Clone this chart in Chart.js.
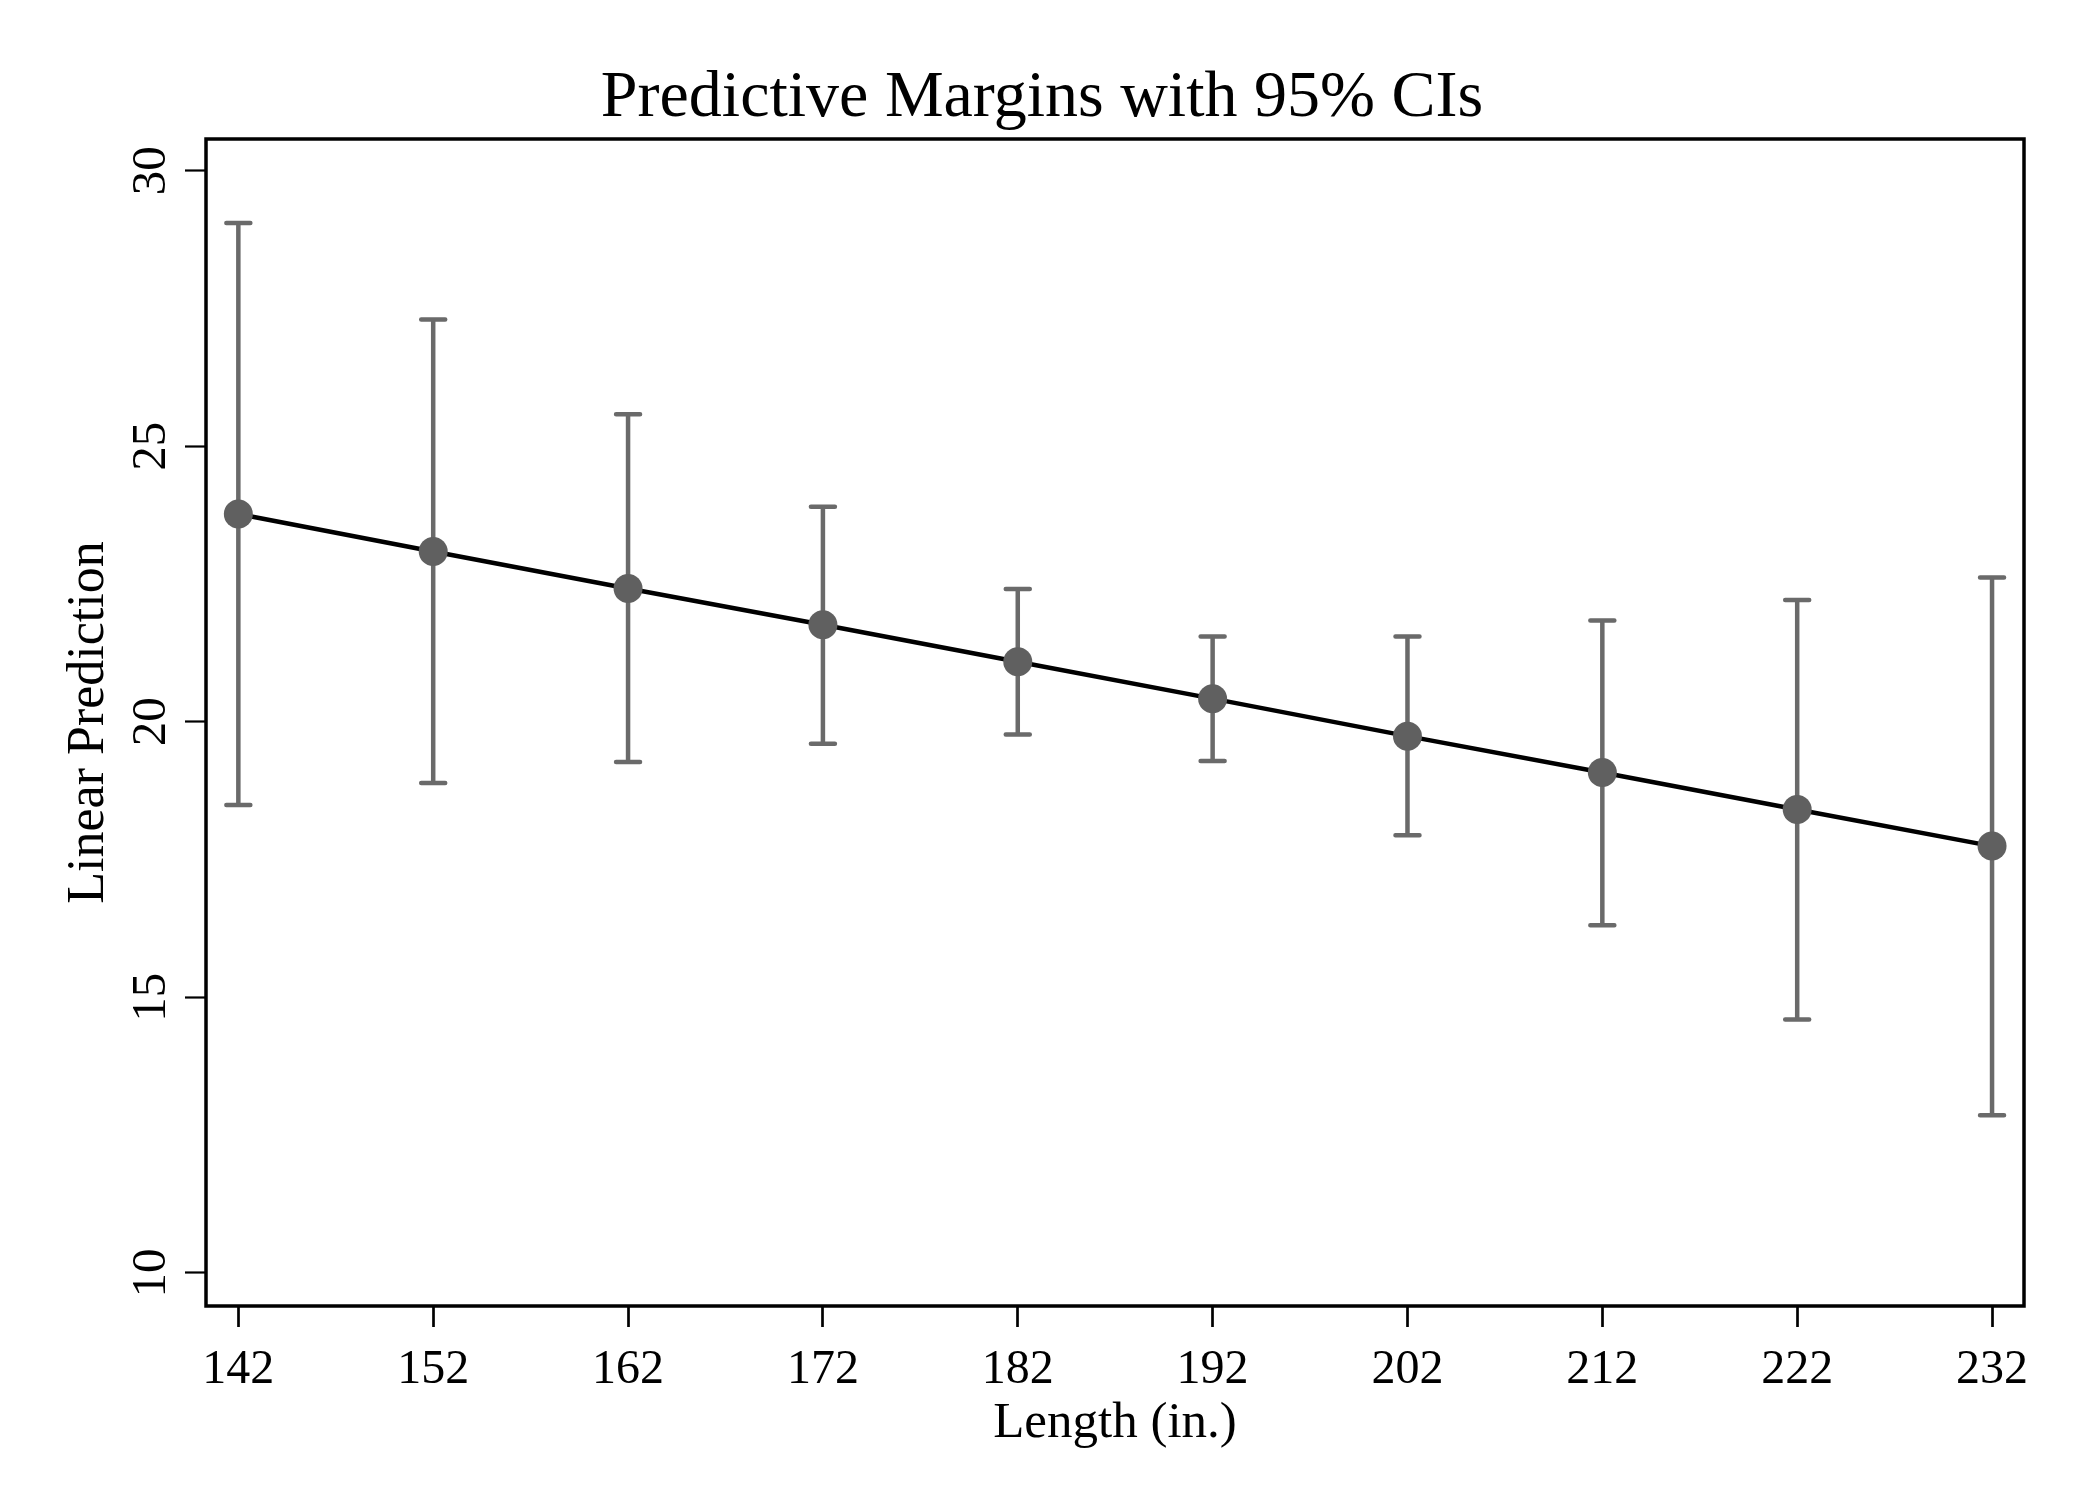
<!DOCTYPE html>
<html>
<head>
<meta charset="utf-8">
<title>Predictive Margins with 95% CIs</title>
<script src="https://cdn.jsdelivr.net/npm/chart.js@4.4.1/dist/chart.umd.min.js"></script>
<style>
  html, body { margin: 0; padding: 0; background: #fff; overflow: hidden; }
  #wrap { width: 2079px; height: 1512px; position: relative; }
</style>
</head>
<body>
<div id="wrap"><canvas id="chart"></canvas></div>
<script>
// values
const lengths = [142, 152, 162, 172, 182, 192, 202, 212, 222, 232];
const margins = [23.77, 23.09, 22.42, 21.76, 21.09, 20.42, 19.74, 19.08, 18.41, 17.745];
const lowerCI = [18.49, 18.89, 19.27, 19.60, 19.77, 19.29, 17.94, 16.31, 14.60, 12.86];
const upperCI = [29.05, 27.30, 25.58, 23.90, 22.41, 21.55, 21.55, 21.84, 22.21, 22.62];
const xTicks = [142, 152, 162, 172, 182, 192, 202, 212, 222, 232];
const yTicks = [10, 15, 20, 25, 30];
const chartTitle = "Predictive Margins with 95% CIs";

const serif = "'Liberation Serif', 'Times New Roman', serif";

// rcap style confidence intervals, drawn under the line
const ciPlugin = {
  id: "ciCaps",
  beforeDatasetsDraw(chart) {
    const { ctx, scales: { x, y } } = chart;
    ctx.save();
    ctx.strokeStyle = "#6a6a6a";
    ctx.lineWidth = 4.5;
    ctx.lineCap = "round";
    lengths.forEach((len, i) => {
      const px = x.getPixelForValue(len);
      const yLo = y.getPixelForValue(lowerCI[i]);
      const yHi = y.getPixelForValue(upperCI[i]);
      ctx.beginPath();
      ctx.moveTo(px, yLo);
      ctx.lineTo(px, yHi);
      ctx.moveTo(px - 12, yLo);
      ctx.lineTo(px + 12, yLo);
      ctx.moveTo(px - 12, yHi);
      ctx.lineTo(px + 12, yHi);
      ctx.stroke();
    });
    ctx.restore();
  },
  afterDraw(chart) {
    const { ctx, chartArea: a, scales: { y } } = chart;
    ctx.save();
    // plot frame
    ctx.strokeStyle = "#000";
    ctx.lineWidth = 3.5;
    ctx.strokeRect(a.left, a.top, a.right - a.left, a.bottom - a.top);
    ctx.fillStyle = "#000";
    // title, centred on the whole figure like Stata does
    ctx.font = "66px " + serif;
    ctx.textAlign = "center";
    ctx.textBaseline = "alphabetic";
    ctx.fillText(chartTitle, 1042, 116);
    // vertical y tick labels
    ctx.font = "49px " + serif;
    y.ticks.forEach((t) => {
      const py = y.getPixelForValue(t.value);
      ctx.save();
      ctx.translate(165, py);
      ctx.rotate(-Math.PI / 2);
      ctx.fillText(String(t.value), 0, 0);
      ctx.restore();
    });
    ctx.restore();
  },
};

const ctx = document.getElementById("chart").getContext("2d");
new Chart(ctx, {
  type: "line",
  data: {
    datasets: [
      {
        label: "Linear Prediction",
        data: lengths.map((len, i) => ({ x: len, y: margins[i] })),
        borderColor: "#000",
        borderWidth: 4.5,
        pointRadius: 14.5,
        pointHoverRadius: 14.5,
        pointBackgroundColor: "#606060",
        pointBorderWidth: 0,
        tension: 0,
        fill: false,
        clip: false,
      },
    ],
  },
  options: {
    responsive: true,
    maintainAspectRatio: false,
    devicePixelRatio: 1,
    animation: false,
    events: [],
    layout: { padding: { left: 0, right: 55, top: 139, bottom: 0 } },
    plugins: {
      legend: { display: false },
      tooltip: { enabled: false },
      title: { display: false },
    },
    scales: {
      x: {
        type: "linear",
        position: "bottom",
        min: 140.34,
        max: 233.64,
        afterBuildTicks: (scale) => {
          scale.ticks = xTicks.map((v) => ({ value: v }));
        },
        afterFit: (scale) => {
          scale.height = 206;
        },
        border: { display: false },
        grid: {
          display: true,
          drawOnChartArea: false,
          drawTicks: true,
          tickLength: 21,
          tickWidth: 2.7,
          tickColor: "#000",
        },
        ticks: {
          color: "#000",
          padding: 15,
          maxRotation: 0,
          autoSkip: false,
          font: { family: serif, size: 48, lineHeight: 1.2 },
          callback: (v) => String(v),
        },
        title: {
          display: true,
          text: "Length (in.)",
          color: "#000",
          font: { family: serif, size: 51, lineHeight: 1.2 },
          padding: { top: 0, bottom: 58 },
        },
      },
      y: {
        type: "linear",
        position: "left",
        min: 9.40,
        max: 30.575,
        afterBuildTicks: (scale) => {
          scale.ticks = yTicks.map((v) => ({ value: v }));
        },
        afterFit: (scale) => {
          scale.width = 206;
        },
        border: { display: false },
        grid: {
          display: true,
          drawOnChartArea: false,
          drawTicks: true,
          tickLength: 21,
          tickWidth: 2.2,
          tickColor: "#000",
        },
        ticks: { display: false },
        title: {
          display: true,
          text: "Linear Prediction",
          color: "#000",
          font: { family: serif, size: 52, lineHeight: 1.2 },
          padding: { top: 58, bottom: 0 },
        },
      },
    },
  },
  plugins: [ciPlugin],
});
</script>
</body>
</html>
